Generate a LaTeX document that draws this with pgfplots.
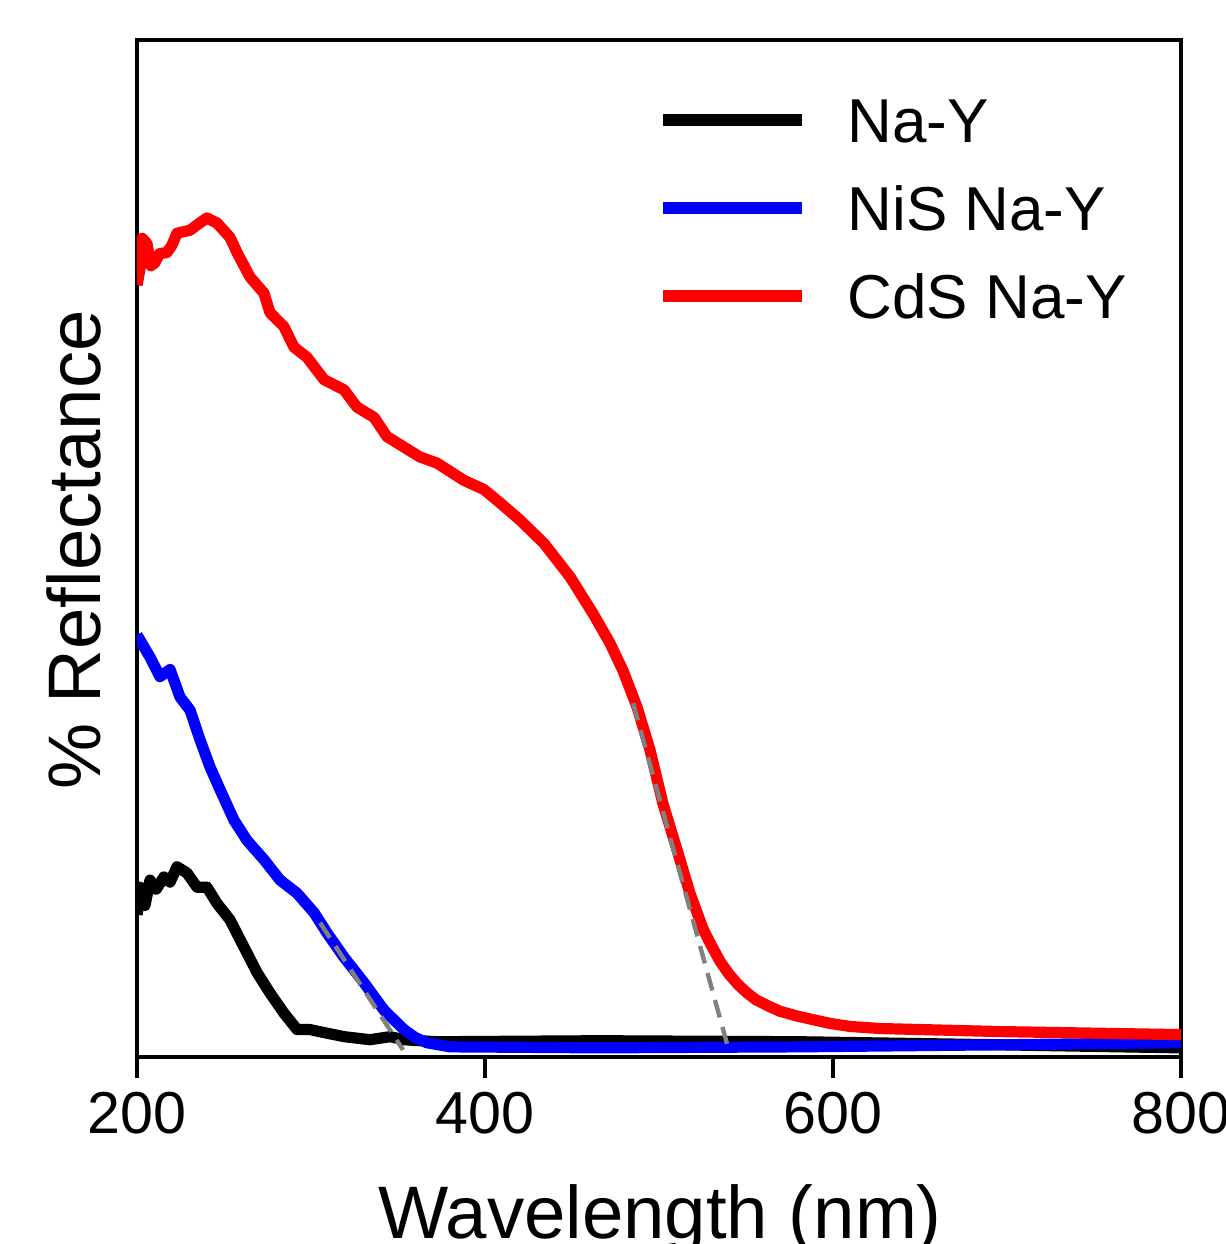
\documentclass[border=0pt]{standalone}
\usepackage{fontspec}
\setmainfont{Liberation Sans}
\usepackage{pgfplots}
\pgfplotsset{compat=1.18}

\begin{document}
\begin{tikzpicture}
\begin{axis}[
  name=ax,
  scale only axis,
  width=261pt, height=254.25pt,
  xmin=200, xmax=800, ymin=0, ymax=100,
  xtick={200,400,600,800},
  ytick=\empty,
  xtick pos=bottom,
  tick align=outside,
  major tick length=5.25pt,
  every tick/.style={black, line width=0.8pt},
  axis line style={line width=0.8pt},
  /pgf/number format/assume math mode=true,
  xticklabel style={font=\fontsize{14.8}{17}\selectfont},
  xlabel={Wavelength (nm)},
  ylabel={\% Reflectance},
  xlabel style={font=\fontsize{18.6}{22}\selectfont,
    at={(axis description cs:0.501,-0.178)}, anchor=base},
  ylabel style={font=\fontsize{18.6}{22}\selectfont,
    at={(axis description cs:-0.0354,0.4985)}, anchor=base},
  legend cell align=left,
  legend image code/.code={\draw[#1, line width=3.2pt] (0pt,0pt) -- (34.75pt,0pt);},
  legend style={draw=none, fill=none, at={(0.4971,0.944)}, anchor=north west,
    inner xsep=0pt, inner ysep=0pt, row sep=10.9pt, column sep=9.75pt,
    font=\fontsize{15.5}{18}\selectfont,
    nodes={inner sep=0pt, text height=11.1pt, text depth=0pt}},
]
% Na-Y
\addplot[black, line width=2.8pt, line join=round] coordinates {
  (200,14.0) (201.1,15.1) (201.7,16.7) (204.6,14.9) (207.5,17.4) (211,16.5)
  (215.5,17.7) (219,17.2) (223.0,18.7) (228.7,18.1) (234.5,16.7) (240.2,16.7)
  (246.0,15.1) (253.4,13.5) (261.5,10.8) (269.0,8.3) (276.4,6.3) (284.5,4.3)
  (292.0,2.7) (299.4,2.7) (307.5,2.4) (319.0,2.0) (333.9,1.7) (345.4,2.0)
  (353.4,1.7) (372.4,1.5) (466,1.6) (581,1.5) (696,1.2) (800,0.9)};
\addlegendentry{Na-Y}
% NiS Na-Y
\addplot[blue, line width=2.8pt, line join=round] coordinates {
  (200,41.5) (201.7,41.0) (207.5,39.3) (213.2,37.4) (219.0,38.1) (224.7,35.4)
  (230.5,34.1) (236.2,31.2) (242.0,28.5) (247.7,26.3) (255.7,23.3) (263.2,21.3)
  (273.0,19.4) (282.2,17.4) (292.0,16.1) (301.7,14.2) (309.2,12.2) (319.0,9.8)
  (330.5,7.3) (342.0,4.6) (353.4,2.7) (360,1.9) (366.7,1.4) (379.9,1.0) (466,0.9)
  (581,1.0) (696,1.2) (800,1.4)};
\addlegendentry{NiS Na-Y}
% CdS Na-Y
\addplot[red, line width=2.8pt, line join=round] coordinates {
  (200,75.9) (201.7,77.5) (203,80.5) (205.7,80.0) (208,77.8) (210.3,78.1)
  (213,79.0) (217.2,79.1) (220,79.8) (223.0,81.0) (230.5,81.3) (236,82.0)
  (240.2,82.5) (246.0,82.0) (253.4,80.6) (257.5,79.1) (264.9,76.7) (273.0,75.1)
  (276.4,73.2) (284.5,71.8) (290.2,69.8) (297.7,68.8) (307.5,66.6) (319.0,65.6)
  (326.4,63.9) (336.2,62.9) (343.7,61.0) (362.6,59.0) (372.4,58.4) (387.9,56.7)
  (399.4,55.8) (408.6,54.5) (420.1,52.8) (433.9,50.5) (448.9,47.2) (462.1,43.6)
  (471.8,40.7) (479.3,38.0) (487.4,34.4) (494.8,30.2) (502.3,24.9) (510.3,20.4)
  (517.8,16.1) (525.3,12.6) (530,11.0) (535.1,9.4) (540,8.2) (545,7.2)
  (550.6,6.3) (556,5.6) (563,5.0) (569.5,4.5) (580,4.0) (598.3,3.3) (610,3.0)
  (627.0,2.8) (696.0,2.5) (800,2.2)};
\addlegendentry{CdS Na-Y}
% band-edge tangents
\addplot[forget plot, gray, line width=1.1pt, dash pattern=on 4.5pt off 2.5pt]
  coordinates {(305.2,13.2) (352.9,0.7)};
\addplot[forget plot, gray, line width=1.1pt, dash pattern=on 4.5pt off 2.5pt]
  coordinates {(485.1,34.8) (539.1,1.3)};
\end{axis}
% title, mostly cropped away at the top edge as in the source figure
\node[anchor=base west, inner sep=0pt, font=\fontsize{24}{28}\selectfont\bfseries]
  at ([shift={(10pt,18pt)}]ax.north west) {UV-Vis Spectroscopy};
\pgfresetboundingbox
\path[use as bounding box] ([shift={(-34.25pt,-46.75pt)}]ax.south west)
  rectangle ([shift={(272.25pt,264.25pt)}]ax.south west);
\end{tikzpicture}
\end{document}
